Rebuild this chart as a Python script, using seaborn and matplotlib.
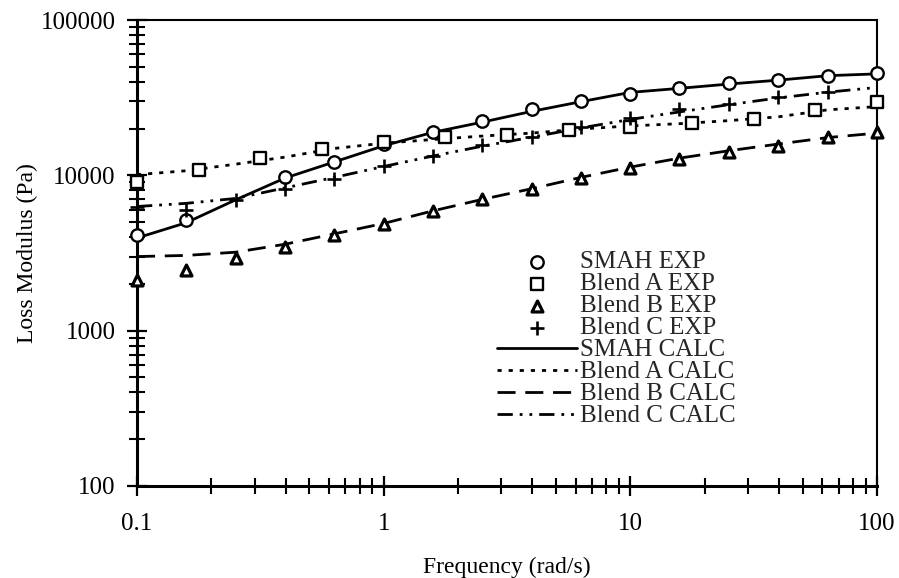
import matplotlib
matplotlib.use("Agg")
import matplotlib.pyplot as plt
from matplotlib.ticker import FixedLocator, FixedFormatter, LogLocator, NullFormatter
import seaborn as sns

# ---------------- data ----------------
freq = [0.1, 0.158, 0.251, 0.398, 0.631, 1.0, 1.58, 2.51, 3.98, 6.31, 10, 15.8, 25.1, 39.8, 63.1, 100]
freq_smah_exp = [0.1, 0.158, 0.398, 0.631, 1.0, 1.58, 2.51, 3.98, 6.31, 10, 15.8, 25.1, 39.8, 63.1, 100]
freq_a_exp = [0.1, 0.178, 0.316, 0.562, 1.0, 1.78, 3.16, 5.62, 10, 17.8, 31.6, 56.2, 100]
freq_c_exp = [0.1, 0.158, 0.251, 0.398, 0.631, 1.0, 1.58, 2.51, 3.98, 6.31, 10, 15.8, 25.1, 39.8, 63.1]

smah_exp = [4100, 5150, 9700, 12200, 15800, 19100, 22500, 26600, 30200, 33400, 36300, 39100, 41100, 43600, 45800]
blend_a_exp = [9100, 10900, 12900, 14700, 16400, 17600, 18200, 19600, 20600, 21600, 23200, 26200, 29800]
blend_b_exp = [2120, 2450, 2920, 3470, 4130, 4860, 5920, 7000, 8130, 9570, 11090, 12680, 14180, 15510, 17570, 19080]
blend_c_exp = [6300, 6000, 6950, 8200, 9500, 11400, 13400, 15700, 17700, 20500, 23300, 26600, 29000, 32000, 34500]

smah_calc = [3950, 4950, 6950, 9600, 12200, 15500, 18900, 22000, 25800, 29800, 34200, 36300, 38700, 41000, 43800, 45000]
blend_a_calc = [10100, 10700, 11800, 13100, 14900, 16100, 17000, 17900, 18700, 19900, 20800, 21500, 22500, 23800, 26400, 27700]
blend_b_calc = [3000, 3050, 3200, 3600, 4200, 4900, 5900, 7000, 8200, 9700, 11300, 12900, 14400, 15900, 17500, 18700]
blend_c_calc = [6300, 6600, 7100, 8300, 9700, 11400, 13300, 15400, 17600, 20200, 22900, 25600, 28500, 31500, 34300, 36800]

x_ticks = [0.1, 1, 10, 100]
x_tick_labels = ["0.1", "1", "10", "100"]
y_ticks = [100, 1000, 10000, 100000]
y_tick_labels = ["100", "1000", "10000", "100000"]

legend_order = ["SMAH EXP", "Blend A EXP", "Blend B EXP", "Blend C EXP",
                "SMAH CALC", "Blend A CALC", "Blend B CALC", "Blend C CALC"]

# ---------------- style ----------------
sns.set_theme(style="white")
plt.rcParams["font.family"] = ["Liberation Serif", "DejaVu Serif"]
plt.rcParams["lines.scale_dashes"] = False

fig = plt.figure(figsize=(8.99, 5.78), dpi=100)
ax = fig.add_axes([137 / 899, 1 - 486 / 578, 740 / 899, 466 / 578])

# calculated curves
sns.lineplot(x=freq, y=smah_calc, ax=ax, color="black", linewidth=2.0,
             linestyle="-", label="SMAH CALC", zorder=2)
sns.lineplot(x=freq, y=blend_a_calc, ax=ax, color="black", linewidth=2.0,
             linestyle=(0, (3, 5)), label="Blend A CALC", zorder=2)
sns.lineplot(x=freq, y=blend_b_calc, ax=ax, color="black", linewidth=2.0,
             linestyle=(0, (13, 7)), label="Blend B CALC", zorder=2)
sns.lineplot(x=freq, y=blend_c_calc, ax=ax, color="black", linewidth=2.0,
             linestyle=(0, (11, 5, 2, 5, 2, 5)), label="Blend C CALC", zorder=2)

# experimental points
sns.scatterplot(x=freq_smah_exp, y=smah_exp, ax=ax, marker="o", s=80,
                facecolor="white", edgecolor="black", linewidth=1.7,
                label="SMAH EXP", zorder=4, clip_on=False)
sns.scatterplot(x=freq_a_exp, y=blend_a_exp, ax=ax, marker="s", s=68,
                facecolor="white", edgecolor="black", linewidth=1.7,
                label="Blend A EXP", zorder=4, clip_on=False)
sns.scatterplot(x=freq, y=blend_b_exp, ax=ax, marker="^", s=62,
                facecolor="white", edgecolor="black", linewidth=2.3,
                label="Blend B EXP", zorder=4, clip_on=False)
sns.scatterplot(x=freq_c_exp, y=blend_c_exp, ax=ax, marker="+", s=115,
                color="black", linewidth=1.9,
                label="Blend C EXP", zorder=4, clip_on=False)

ax.set_xscale("log")
ax.set_yscale("log")
ax.set_xlim(0.1, 100)
ax.set_ylim(100, 100000)

ax.xaxis.set_major_locator(FixedLocator(x_ticks))
ax.xaxis.set_major_formatter(FixedFormatter(x_tick_labels))
ax.yaxis.set_major_locator(FixedLocator(y_ticks))
ax.yaxis.set_major_formatter(FixedFormatter(y_tick_labels))
ax.xaxis.set_minor_locator(LogLocator(base=10, subs=range(2, 10)))
ax.yaxis.set_minor_locator(LogLocator(base=10, subs=range(2, 10)))
ax.xaxis.set_minor_formatter(NullFormatter())
ax.yaxis.set_minor_formatter(NullFormatter())

ax.tick_params(axis="both", which="major", direction="inout", length=15, width=1.6,
               color="black", labelsize=18, labelcolor="black",
               left=True, bottom=True, top=False, right=False)
ax.tick_params(axis="both", which="minor", direction="inout", length=12, width=1.5,
               color="black", left=True, bottom=True, top=False, right=False)
ax.tick_params(axis="x", which="major", pad=12)
ax.tick_params(axis="y", which="major", pad=8)

for side in ["left", "bottom"]:
    ax.spines[side].set_linewidth(2.2)
    ax.spines[side].set_color("black")
for side in ["top", "right"]:
    ax.spines[side].set_linewidth(1.5)
    ax.spines[side].set_color("black")

ax.set_xlabel("Frequency (rad/s)", fontsize=17, color="black")
ax.set_ylabel("Loss Modulus (Pa)", fontsize=17, color="black")
ax.xaxis.set_label_coords(0.5, -0.152)
ax.yaxis.set_label_coords(-0.134, 0.5)

handles, labels = ax.get_legend_handles_labels()
hmap = dict(zip(labels, handles))
leg = ax.legend([hmap[l] for l in legend_order], legend_order,
                loc="upper left", bbox_to_anchor=(497 / 899, 1 - 251 / 578),
                bbox_transform=fig.transFigure, frameon=False, fontsize=18,
                handlelength=3.2, handletextpad=0.12, labelspacing=-0.02,
                borderpad=0, borderaxespad=0, scatterpoints=1)

fig.savefig("out.png", dpi=100)
